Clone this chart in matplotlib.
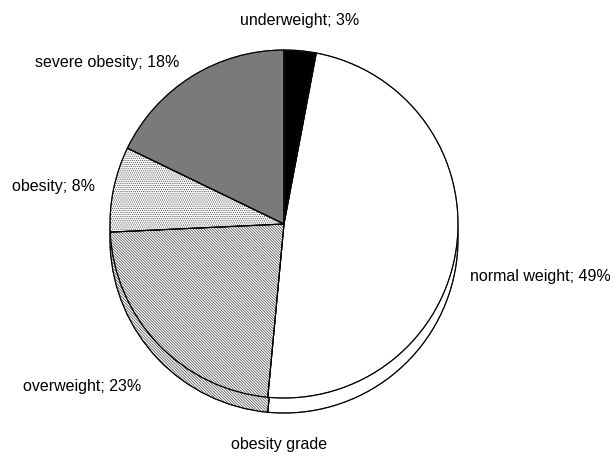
import matplotlib
matplotlib.use('Agg')
import matplotlib.pyplot as plt

labels = ["underweight", "normal weight", "overweight", "obesity", "severe obesity"]
shares = [3, 49, 23, 8, 18]
fills = ['black', 'white', 'white', 'white', '#7a7a7a']
hatches = [None, None, '\\' * 12, '.' * 8, None]

# label anchors in pixels (x, y from top)
label_pos = [(300, 20), (540, 276), (82, 387), (53, 187), (107, 62)]

W, H = 615, 468
cx, cy, r, depth = 284, 468 - 224, 174, 15

plt.rcParams['font.family'] = ['Liberation Sans', 'DejaVu Sans']
plt.rcParams['hatch.linewidth'] = 0.5

fig = plt.figure(figsize=(W / 100, H / 100), dpi=100)
ax = fig.add_axes([0, 0, 1, 1])

def draw_face(center, z):
    wedges, _ = ax.pie(shares, colors=fills, startangle=90, counterclock=False,
                       center=center, radius=r,
                       wedgeprops=dict(edgecolor='#444444', linewidth=0.8))
    for w, h in zip(wedges, hatches):
        w.set_zorder(z)
        if h:
            w.set_hatch(h)
    # outlines drawn on top in black
    outl, _ = ax.pie(shares, colors=['none'] * len(shares), startangle=90, counterclock=False,
                     center=center, radius=r,
                     wedgeprops=dict(edgecolor='black', linewidth=0.8, fill=False))
    for w in outl:
        w.set_zorder(z + 0.5)

# side of the disc, then the top face
draw_face((cx, cy - depth), 1)
draw_face((cx, cy), 3)

for lab, val, (px, py) in zip(labels, shares, label_pos):
    ax.text(px, H - py, f"{lab}; {val}%", ha='center', va='center', fontsize=11.5)

ax.text(279, H - 444, "obesity grade", ha='center', va='center', fontsize=11.5)

ax.set_xlim(0, W)
ax.set_ylim(0, H)
ax.set_aspect('auto')
ax.axis('off')

plt.savefig('out.png', dpi=100)
plt.close()
